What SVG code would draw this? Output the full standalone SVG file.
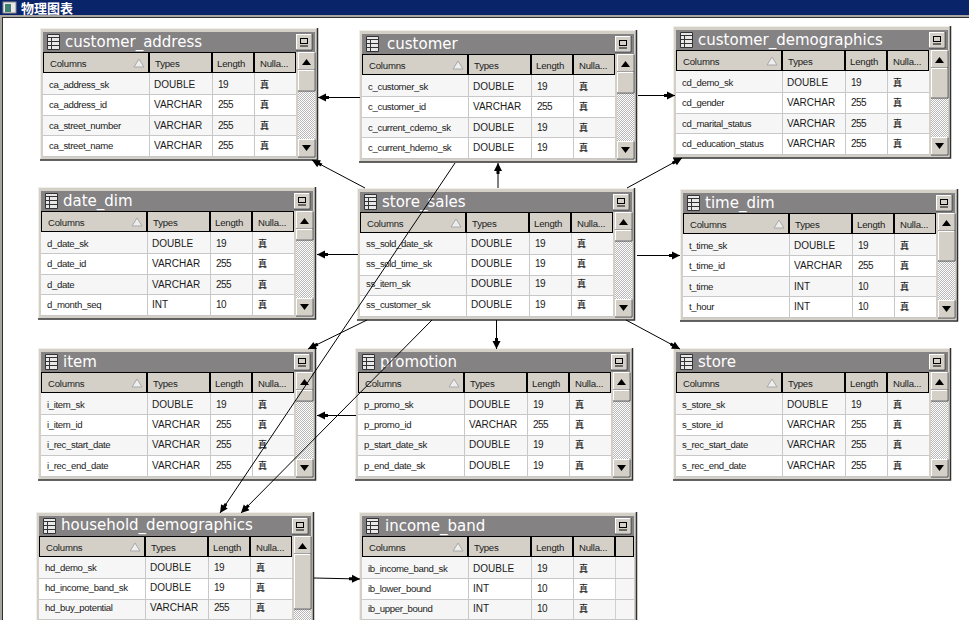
<svg xmlns="http://www.w3.org/2000/svg" xmlns:xlink="http://www.w3.org/1999/xlink" width="969" height="620" viewBox="0 0 969 620">
<style>
text{font-family:"Liberation Sans",Arial,sans-serif;font-size:9.6px;letter-spacing:-.2px;fill:#1a1a1a}
text[x="9"]{letter-spacing:-.35px}
text[x="114"]{font-size:10px;letter-spacing:0}
text[x="178"]{font-size:10px;letter-spacing:-.5px}
.ti{font-family:"DejaVu Sans",sans-serif;font-size:15px;letter-spacing:0;fill:#fff}
.n{font-family:"Liberation Sans","Noto Sans CJK SC",sans-serif;font-size:9px;letter-spacing:0;font-weight:500}
.w{font-family:"Liberation Sans","Noto Sans CJK SC",sans-serif;font-size:13px;letter-spacing:0;font-weight:700;fill:#fff}
.c{fill:none;stroke:#000;stroke-width:1}
.btn{fill:#d4d0c8;stroke:#fff;stroke-width:1}
.sh{fill:none;stroke:#404040;stroke-width:1}
.g{stroke:#c8c8c8;stroke-width:1;fill:none}
.hd{fill:#d4d0c8;stroke:#000;stroke-width:1}
</style>
<defs>
<pattern id="dith" width="2" height="2" patternUnits="userSpaceOnUse"><rect width="2" height="2" fill="#fff"/><rect width="1" height="1" fill="#b8b8b8"/><rect x="1" y="1" width="1" height="1" fill="#b8b8b8"/></pattern>
<marker id="ah" markerUnits="userSpaceOnUse" markerWidth="12" markerHeight="12" refX="11" refY="5" orient="auto"><path d="M0 3.500H3V1L11 5 3 9V6.500H0Z" fill="#000"/></marker>
<g id="frame">
<rect x="0.500" y="0.500" width="277" height="131" fill="#d4d0c8" stroke="#efeee9"/>
<path d="M277.500 0V132H0" fill="none" stroke="#303030" stroke-width="1.500"/>
<rect x="3" y="4" width="272" height="20" fill="#858284"/>
<path d="M7.500 6.500H19.500V21.500H7.500Z" fill="#e8e8e8" stroke="#333"/><path d="M7 9.500H20M7 13.500H20M7 17.500H20M11.500 9V21" stroke="#333"/>
<rect x="256.500" y="6.500" width="15" height="15" fill="#d4d0c8" stroke="#fff"/><path d="M272 6V22H256" fill="none" stroke="#404040"/><rect x="260.500" y="10.500" width="7" height="5" fill="none" stroke="#000"/><path d="M260 18H268" stroke="#000"/>
<rect x="3" y="45" width="253" height="84" fill="#fff"/>
<rect x="3" y="45" width="253" height="21" fill="#f6f6f6"/><rect x="3" y="87" width="253" height="20" fill="#f6f6f6"/>
<path class="g" d="M3 66.500H256M3 87.500H256M3 107.500H256M3 128.500H256M109.500 45V129M172.500 45V129M214.500 45V129"/>
<rect class="hd" x="3.500" y="24.500" width="105" height="20"/><rect class="hd" x="109.500" y="24.500" width="62" height="20"/><rect class="hd" x="172.500" y="24.500" width="41" height="20"/><rect class="hd" x="214.500" y="24.500" width="41" height="20"/>
<path d="M94 39L99 31 104 39Z" fill="#eee" stroke="#a8a8a8"/>
<text x="10" y="39">Columns</text><text x="115" y="39">Types</text><text x="177" y="39">Length</text><text x="220" y="39">Nulla...</text>
</g>
<g id="sb">
<rect x="258" y="24" width="17" height="104" fill="url(#dith)"/>
<rect class="btn" x="258.500" y="24.500" width="16" height="17"/><path class="sh" d="M275 24.500V42H258"/><path d="M262 37L266.500 31 271 37Z" fill="#000"/>
<rect class="btn" x="258.500" y="111.500" width="16" height="17"/><path class="sh" d="M275 111.500V129H258"/><path d="M262 117L266.500 123 271 117Z" fill="#000"/>
</g>
<g id="th-s"><rect class="btn" x="258.500" y="42.500" width="16" height="10"/><path class="sh" d="M275 42V53H258"/></g>
<g id="th-m"><rect class="btn" x="258.500" y="42.500" width="16" height="20"/><path class="sh" d="M275 42V63H258"/></g>
<g id="th-l"><rect class="btn" x="258.500" y="42.500" width="16" height="29"/><path class="sh" d="M275 42V72H258"/></g>
<g id="th-x"><rect class="btn" x="258.500" y="42.500" width="16" height="54"/><path class="sh" d="M275 42V97H258"/></g>
</defs>

<rect width="969" height="620" fill="#fff"/>
<rect width="969" height="15" fill="#0a246a"/>
<rect y="15" width="969" height="3" fill="#a8a5a0"/>
<rect y="15" width="2" height="605" fill="#a8a5a0"/>
<path d="M2.500 18V620M2 17.500H969" stroke="#303030" fill="none"/>
<rect x="3" y="2" width="13" height="11" fill="#e8e8e8" stroke="#888"/><rect x="5" y="4" width="6" height="8" fill="#3f7f6f"/>
<text class="w" x="21" y="13">物理图表</text>

<g id="customer_address" transform="translate(40,28)"><use href="#frame"/><use href="#sb"/><use href="#th-m"/>
<text class="ti" x="25" y="19">customer_address</text>
<text x="9" y="60">ca_address_sk</text><text x="114" y="60">DOUBLE</text><text x="178" y="60">19</text><text class="n" x="220" y="60">真</text>
<text x="9" y="80">ca_address_id</text><text x="114" y="80">VARCHAR</text><text x="178" y="80">255</text><text class="n" x="220" y="80">真</text>
<text x="9" y="101">ca_street_number</text><text x="114" y="101">VARCHAR</text><text x="178" y="101">255</text><text class="n" x="220" y="101">真</text>
<text x="9" y="121">ca_street_name</text><text x="114" y="121">VARCHAR</text><text x="178" y="121">255</text><text class="n" x="220" y="121">真</text></g>

<g id="customer" transform="translate(359,30)"><use href="#frame"/><use href="#sb"/><use href="#th-m"/>
<text class="ti" x="28" y="19">customer</text>
<text x="9" y="60">c_customer_sk</text><text x="114" y="60">DOUBLE</text><text x="178" y="60">19</text><text class="n" x="220" y="60">真</text>
<text x="9" y="80">c_customer_id</text><text x="114" y="80">VARCHAR</text><text x="178" y="80">255</text><text class="n" x="220" y="80">真</text>
<text x="9" y="101">c_current_cdemo_sk</text><text x="114" y="101">DOUBLE</text><text x="178" y="101">19</text><text class="n" x="220" y="101">真</text>
<text x="9" y="121">c_current_hdemo_sk</text><text x="114" y="121">DOUBLE</text><text x="178" y="121">19</text><text class="n" x="220" y="121">真</text></g>

<g id="customer_demographics" transform="translate(673,26)"><use href="#frame"/><use href="#sb"/><use href="#th-l"/>
<text class="ti" x="25" y="19">customer_demographics</text>
<text x="9" y="60">cd_demo_sk</text><text x="114" y="60">DOUBLE</text><text x="178" y="60">19</text><text class="n" x="220" y="60">真</text>
<text x="9" y="80">cd_gender</text><text x="114" y="80">VARCHAR</text><text x="178" y="80">255</text><text class="n" x="220" y="80">真</text>
<text x="9" y="101">cd_marital_status</text><text x="114" y="101">VARCHAR</text><text x="178" y="101">255</text><text class="n" x="220" y="101">真</text>
<text x="9" y="121">cd_education_status</text><text x="114" y="121">VARCHAR</text><text x="178" y="121">255</text><text class="n" x="220" y="121">真</text></g>

<g id="date_dim" transform="translate(38,187)"><use href="#frame"/><use href="#sb"/><use href="#th-s"/>
<text class="ti" x="25" y="19">date_dim</text>
<text x="9" y="60">d_date_sk</text><text x="114" y="60">DOUBLE</text><text x="178" y="60">19</text><text class="n" x="220" y="60">真</text>
<text x="9" y="80">d_date_id</text><text x="114" y="80">VARCHAR</text><text x="178" y="80">255</text><text class="n" x="220" y="80">真</text>
<text x="9" y="101">d_date</text><text x="114" y="101">VARCHAR</text><text x="178" y="101">255</text><text class="n" x="220" y="101">真</text>
<text x="9" y="121">d_month_seq</text><text x="114" y="121">INT</text><text x="178" y="121">10</text><text class="n" x="220" y="121">真</text></g>

<g id="store_sales" transform="translate(357,188)"><use href="#frame"/><use href="#sb"/><use href="#th-s"/>
<text class="ti" x="25" y="19">store_sales</text>
<text x="9" y="59">ss_sold_date_sk</text><text x="114" y="59">DOUBLE</text><text x="178" y="59">19</text><text class="n" x="220" y="59">真</text>
<text x="9" y="79">ss_sold_time_sk</text><text x="114" y="79">DOUBLE</text><text x="178" y="79">19</text><text class="n" x="220" y="79">真</text>
<text x="9" y="99">ss_item_sk</text><text x="114" y="99">DOUBLE</text><text x="178" y="99">19</text><text class="n" x="220" y="99">真</text>
<text x="9" y="120">ss_customer_sk</text><text x="114" y="120">DOUBLE</text><text x="178" y="120">19</text><text class="n" x="220" y="120">真</text></g>

<g id="time_dim" transform="translate(680,189)"><use href="#frame"/><use href="#sb"/><use href="#th-l"/>
<text class="ti" x="25" y="19">time_dim</text>
<text x="9" y="60">t_time_sk</text><text x="114" y="60">DOUBLE</text><text x="178" y="60">19</text><text class="n" x="220" y="60">真</text>
<text x="9" y="80">t_time_id</text><text x="114" y="80">VARCHAR</text><text x="178" y="80">255</text><text class="n" x="220" y="80">真</text>
<text x="9" y="101">t_time</text><text x="114" y="101">INT</text><text x="178" y="101">10</text><text class="n" x="220" y="101">真</text>
<text x="9" y="121">t_hour</text><text x="114" y="121">INT</text><text x="178" y="121">10</text><text class="n" x="220" y="121">真</text></g>

<g id="item" transform="translate(38,348)"><use href="#frame"/><use href="#sb"/><use href="#th-s"/>
<text class="ti" x="25" y="19">item</text>
<text x="9" y="60">i_item_sk</text><text x="114" y="60">DOUBLE</text><text x="178" y="60">19</text><text class="n" x="220" y="60">真</text>
<text x="9" y="80">i_item_id</text><text x="114" y="80">VARCHAR</text><text x="178" y="80">255</text><text class="n" x="220" y="80">真</text>
<text x="9" y="100">i_rec_start_date</text><text x="114" y="100">VARCHAR</text><text x="178" y="100">255</text><text class="n" x="220" y="100">真</text>
<text x="9" y="121">i_rec_end_date</text><text x="114" y="121">VARCHAR</text><text x="178" y="121">255</text><text class="n" x="220" y="121">真</text></g>

<g id="promotion" transform="translate(355,348)"><use href="#frame"/><use href="#sb"/><use href="#th-s"/>
<text class="ti" x="25" y="19">promotion</text>
<text x="9" y="60">p_promo_sk</text><text x="114" y="60">DOUBLE</text><text x="178" y="60">19</text><text class="n" x="220" y="60">真</text>
<text x="9" y="80">p_promo_id</text><text x="114" y="80">VARCHAR</text><text x="178" y="80">255</text><text class="n" x="220" y="80">真</text>
<text x="9" y="100">p_start_date_sk</text><text x="114" y="100">DOUBLE</text><text x="178" y="100">19</text><text class="n" x="220" y="100">真</text>
<text x="9" y="121">p_end_date_sk</text><text x="114" y="121">DOUBLE</text><text x="178" y="121">19</text><text class="n" x="220" y="121">真</text></g>

<g id="store" transform="translate(673,348)"><use href="#frame"/><use href="#sb"/><use href="#th-s"/>
<text class="ti" x="25" y="19">store</text>
<text x="9" y="60">s_store_sk</text><text x="114" y="60">DOUBLE</text><text x="178" y="60">19</text><text class="n" x="220" y="60">真</text>
<text x="9" y="80">s_store_id</text><text x="114" y="80">VARCHAR</text><text x="178" y="80">255</text><text class="n" x="220" y="80">真</text>
<text x="9" y="100">s_rec_start_date</text><text x="114" y="100">VARCHAR</text><text x="178" y="100">255</text><text class="n" x="220" y="100">真</text>
<text x="9" y="121">s_rec_end_date</text><text x="114" y="121">VARCHAR</text><text x="178" y="121">255</text><text class="n" x="220" y="121">真</text></g>

<g id="household_demographics" transform="translate(36,512)"><use href="#frame"/><use href="#sb"/><use href="#th-x"/>
<text class="ti" x="25" y="18">household_demographics</text>
<text x="9" y="59">hd_demo_sk</text><text x="114" y="59">DOUBLE</text><text x="178" y="59">19</text><text class="n" x="220" y="59">真</text>
<text x="9" y="79">hd_income_band_sk</text><text x="114" y="79">DOUBLE</text><text x="178" y="79">19</text><text class="n" x="220" y="79">真</text>
<text x="9" y="99">hd_buy_potential</text><text x="114" y="99">VARCHAR</text><text x="178" y="99">255</text><text class="n" x="220" y="99">真</text></g>

<g id="income_band" transform="translate(359,512)"><use href="#frame"/>
<rect class="hd" x="256.500" y="24.500" width="18" height="20"/><rect x="257" y="45" width="18" height="84" fill="#f6f6f6"/><path class="g" d="M256 66.500H275M256 87.500H275M256 107.500H275"/>
<text class="ti" x="26" y="19">income_band</text>
<text x="9" y="60">ib_income_band_sk</text><text x="114" y="60">DOUBLE</text><text x="178" y="60">19</text><text class="n" x="220" y="60">真</text>
<text x="9" y="80">ib_lower_bound</text><text x="114" y="80">INT</text><text x="178" y="80">10</text><text class="n" x="220" y="80">真</text>
<text x="9" y="100">ib_upper_bound</text><text x="114" y="100">INT</text><text x="178" y="100">10</text><text class="n" x="220" y="100">真</text></g>

<g id="connectors">
<path class="c" marker-end="url(#ah)" d="M365 188L312 160"/>
<path class="c" marker-end="url(#ah)" d="M498 188V163"/>
<path class="c" marker-end="url(#ah)" d="M627 188L682 158"/>
<path class="c" marker-end="url(#ah)" d="M358 254.500H317"/>
<path class="c" marker-end="url(#ah)" d="M637 255.500H680"/>
<path class="c" marker-end="url(#ah)" d="M367 320L308 349"/>
<path class="c" marker-end="url(#ah)" d="M496.500 320V349"/>
<path class="c" marker-end="url(#ah)" d="M626 320L680 349"/>
<path class="c" marker-end="url(#ah)" d="M432 320L241 513"/>
<path class="c" marker-end="url(#ah)" d="M455 163L220 513"/>
<path class="c" marker-end="url(#ah)" d="M360 97.500H318"/>
<path class="c" marker-end="url(#ah)" d="M638 95.500H675"/>
<path class="c" marker-end="url(#ah)" d="M356 415.500H317"/>
<path class="c" marker-end="url(#ah)" d="M314 578L360 579"/>
</g>
</svg>
